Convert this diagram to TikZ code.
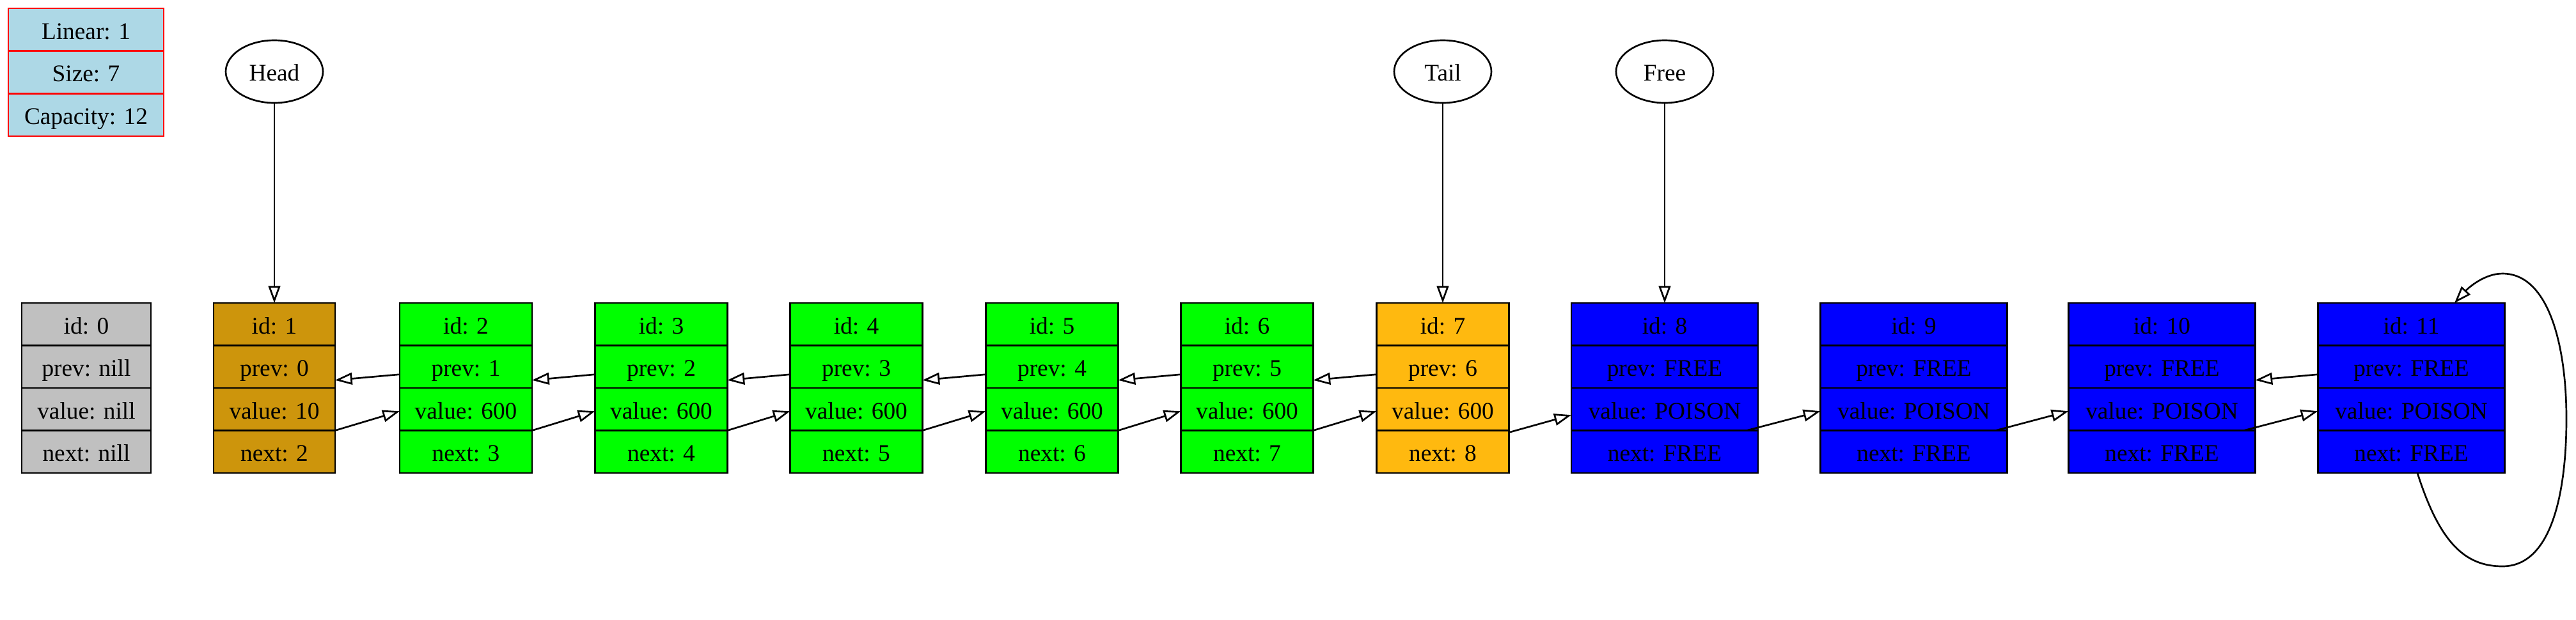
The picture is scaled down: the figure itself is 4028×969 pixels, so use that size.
\documentclass[tikz,border=0pt]{standalone}
\usepackage{fontspec}
\setmainfont{Liberation Serif}
\usetikzlibrary{arrows.meta,shapes.geometric,calc}
\definecolor{cgray}{RGB}{192,192,192}
\definecolor{cgoldA}{RGB}{205,149,12}
\definecolor{cgoldB}{RGB}{255,185,15}
\definecolor{cgreen}{RGB}{0,255,0}
\definecolor{cblue}{RGB}{0,0,255}
\definecolor{clight}{RGB}{173,216,230}
\definecolor{cred}{RGB}{255,0,0}
\newcommand{\recnode}[8]{%
  \node[fld, minimum width=#3, fill=#4] (#1a) at (#2,507.25) {id: #5};
  \node[fld, minimum width=#3, fill=#4] (#1p) at (#2,573.75) {prev: #6};
  \node[fld, minimum width=#3, fill=#4] (#1v) at (#2,640.25) {value: #7};
  \node[fld, minimum width=#3, fill=#4] (#1n) at (#2,706.75) {next: #8};
}
\begin{document}
\begin{tikzpicture}[x=0.375pt,y=-0.375pt,
  every node/.style={font=\fontsize{14}{16.8}\selectfont, text height=11.5pt, text depth=0.3pt},
  fld/.style={draw=black, line width=1pt, rectangle, inner sep=0pt, outer sep=0pt, minimum height=24.9375pt},
  infofld/.style={draw=cred, line width=1pt, fill=clight, rectangle, inner sep=0pt, outer sep=0pt, minimum width=91.125pt, minimum height=25pt},
  ptr/.style={draw=black, line width=1pt, ellipse, inner sep=0pt, outer sep=0pt, minimum width=57pt, minimum height=36.75pt},
  arr/.style={draw=black, line width=1pt, -{Triangle[open,length=10pt,width=7pt]}}]
\useasboundingbox (0,0) rectangle (4028,969);
% info box
\node[infofld] (lin) at (134.5,46.3) {Linear: 1};
\node[infofld] (siz) at (134.5,113) {Size: 7};
\node[infofld] (cap) at (134.5,179.7) {Capacity: 12};
% records
\recnode{n0}{135}{75.75pt}{cgray}{0}{nill}{nill}{nill}
\recnode{n1}{429}{71.25pt}{cgoldA}{1}{0}{10}{2}
\recnode{n2}{728.5}{77.625pt}{cgreen}{2}{1}{600}{3}
\recnode{n3}{1034}{77.625pt}{cgreen}{3}{2}{600}{4}
\recnode{n4}{1339}{77.625pt}{cgreen}{4}{3}{600}{5}
\recnode{n5}{1645}{77.625pt}{cgreen}{5}{4}{600}{6}
\recnode{n6}{1950}{77.625pt}{cgreen}{6}{5}{600}{7}
\recnode{n7}{2256}{77.625pt}{cgoldB}{7}{6}{600}{8}
\recnode{n8}{2603}{109.5pt}{cblue}{8}{FREE}{POISON}{FREE}
\recnode{n9}{2992.5}{109.5pt}{cblue}{9}{FREE}{POISON}{FREE}
\recnode{n10}{3380.5}{109.5pt}{cblue}{10}{FREE}{POISON}{FREE}
\recnode{n11}{3770.5}{109.5pt}{cblue}{11}{FREE}{POISON}{FREE}
% pointer ellipses
\node[ptr] (head) at (429,112) {Head};
\node[ptr] (tail) at (2256,112) {Tail};
\node[ptr] (free) at (2603,112) {Free};
\draw[arr] (head.south) -- (n1a.north);
\draw[arr] (tail.south) -- (n7a.north);
\draw[arr] (free.south) -- (n8a.north);
% next links
\foreach \i/\j in {1/2,2/3,3/4,4/5,5/6,6/7}{
  \draw[arr] (n\i n.north east) -- ($(n\j v.west)+(0,3)$);
}
\draw[arr] ($(n7n.north east)+(0,3)$) -- ($(n8v.west)+(0,9)$);
\foreach \i/\j in {8/9,9/10,10/11}{
  \draw[arr] ($(n\i n.north east)+(-18,0)$) -- ($(n\j v.west)+(0,3)$);
}
% prev links
\foreach \i/\j in {1/2,2/3,3/4,4/5,5/6,6/7,10/11}{
  \draw[arr] ($(n\j p.west)+(0,12)$) -- ($(n\i p.east)+(0,21)$);
}
% self loop on node 11
\draw[arr] ($(n11n.south)+(9.5,0)$) .. controls (3815,850) and (3855,886) .. (3913,886)
  .. controls (3990,886) and (4013,770) .. (4013,655)
  .. controls (4013,540) and (3985,428) .. (3913,428)
  .. controls (3885,428) and (3860,450) .. ($(n11a.north)+(67.5,0)$);
\end{tikzpicture}
\end{document}
